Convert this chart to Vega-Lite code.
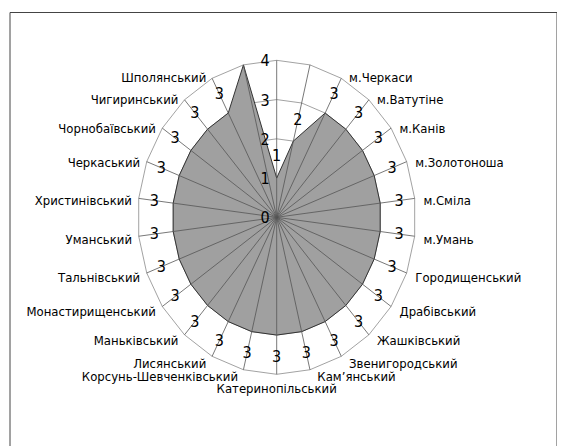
{
  "$schema": "https://vega.github.io/schema/vega-lite/v6.json",
  "width": 547,
  "height": 460,
  "autosize": {"type": "none"},
  "padding": {"left": 9.5, "top": 12, "right": 0, "bottom": 0},
  "background": "white",
  "config": {
    "view": {"stroke": "#444", "strokeWidth": 1},
    "font": "DejaVu Sans Condensed, DejaVu Sans",
    "text": {"font": "DejaVu Sans Condensed, DejaVu Sans", "color": "#000"}
  },
  "datasets": {
    "pts": [
      {"i": 0, "name": "", "value": 1, "label": "1"},
      {"i": 1, "name": "", "value": 2, "label": "2"},
      {"i": 2, "name": "м.Черкаси", "value": 3, "label": "3"},
      {"i": 3, "name": "м.Ватутіне", "value": 3, "label": "3"},
      {"i": 4, "name": "м.Канів", "value": 3, "label": "3"},
      {"i": 5, "name": "м.Золотоноша", "value": 3, "label": "3"},
      {"i": 6, "name": "м.Сміла", "value": 3, "label": "3"},
      {"i": 7, "name": "м.Умань", "value": 3, "label": "3"},
      {"i": 8, "name": "Городищенський", "value": 3, "label": "3"},
      {"i": 9, "name": "Драбівський", "value": 3, "label": "3"},
      {"i": 10, "name": "Жашківський", "value": 3, "label": "3"},
      {"i": 11, "name": "Звенигородський", "value": 3, "label": "3"},
      {"i": 12, "name": "Кам’янський", "value": 3, "label": "3"},
      {"i": 13, "name": "Катеринопільський", "value": 3, "label": "3"},
      {"i": 14, "name": "Корсунь-Шевченківський", "value": 3, "label": "3"},
      {"i": 15, "name": "Лисянський", "value": 3, "label": "3"},
      {"i": 16, "name": "Маньківський", "value": 3, "label": "3"},
      {"i": 17, "name": "Монастирищенський", "value": 3, "label": "3"},
      {"i": 18, "name": "Тальнівський", "value": 3, "label": "3"},
      {"i": 19, "name": "Уманський", "value": 3, "label": "3"},
      {"i": 20, "name": "Христинівський", "value": 3, "label": "3"},
      {"i": 21, "name": "Черкаський", "value": 3, "label": "3"},
      {"i": 22, "name": "Чорнобаївський", "value": 3, "label": "3"},
      {"i": 23, "name": "Чигиринський", "value": 3, "label": "3"},
      {"i": 24, "name": "Шполянський", "value": 3, "label": "3"},
      {"i": 25, "name": "", "value": 4, "label": ""}
    ],
    "ticks": [{"tick": 0}, {"tick": 1}, {"tick": 2}, {"tick": 3}, {"tick": 4}]
  },
  "data": {"name": "pts"},
  "transform": [
    {"calculate": "datum.i * 2 * PI / 26", "as": "theta"},
    {"calculate": "datum.value * sin(datum.theta)", "as": "px"},
    {"calculate": "datum.value * cos(datum.theta)", "as": "py"},
    {"calculate": "4 * sin(datum.theta)", "as": "ex"},
    {"calculate": "4 * cos(datum.theta)", "as": "ey"},
    {"calculate": "4.05 * sin(datum.theta)", "as": "lx"},
    {"calculate": "4.05 * cos(datum.theta) - 0.06 * (1 - cos(datum.theta))", "as": "ly"},
    {"calculate": "(datum.value + 0.55) * sin(datum.theta)", "as": "vx"},
    {"calculate": "(datum.value + 0.55) * cos(datum.theta)", "as": "vy"}
  ],
  "layer": [
    {
      "transform": [
        {"calculate": "[1, 2, 3, 4]", "as": "ring"},
        {"flatten": ["ring"]},
        {"calculate": "datum.ring * sin(datum.theta)", "as": "rx"},
        {"calculate": "datum.ring * cos(datum.theta)", "as": "ry"}
      ],
      "mark": {"type": "line", "interpolate": "linear-closed", "stroke": "#8a8a8a", "strokeWidth": 0.8},
      "encoding": {
        "x": {"field": "rx", "type": "quantitative", "scale": {"domain": [-7.689, 8.052], "nice": false, "zero": false}, "axis": null},
        "y": {"field": "ry", "type": "quantitative", "scale": {"domain": [-6.489, 5.231], "nice": false, "zero": false}, "axis": null},
        "detail": {"field": "ring", "type": "nominal"},
        "order": {"field": "i", "type": "quantitative"}
      }
    },
    {
      "mark": {"type": "line", "interpolate": "linear-closed", "fill": "#a0a0a0", "stroke": "#333", "strokeWidth": 1},
      "encoding": {
        "x": {"field": "px", "type": "quantitative", "scale": {"domain": [-7.689, 8.052], "nice": false, "zero": false}, "axis": null},
        "y": {"field": "py", "type": "quantitative", "scale": {"domain": [-6.489, 5.231], "nice": false, "zero": false}, "axis": null},
        "order": {"field": "i", "type": "quantitative"}
      }
    },
    {
      "mark": {"type": "rule", "stroke": "#555", "strokeWidth": 0.8},
      "encoding": {
        "x": {"field": "ex", "type": "quantitative", "scale": {"domain": [-7.689, 8.052], "nice": false, "zero": false}, "axis": null},
        "y": {"field": "ey", "type": "quantitative", "scale": {"domain": [-6.489, 5.231], "nice": false, "zero": false}, "axis": null},
        "x2": {"datum": 0},
        "y2": {"datum": 0}
      }
    },
    {
      "mark": {"type": "text", "fontSize": 16, "font": "Liberation Sans Narrow, DejaVu Sans Condensed, DejaVu Sans", "align": "center", "baseline": "middle"},
      "encoding": {
        "x": {"field": "vx", "type": "quantitative", "axis": null},
        "y": {"field": "vy", "type": "quantitative", "axis": null},
        "text": {"field": "label", "type": "nominal"}
      }
    },
    {
      "transform": [{"filter": "datum.i >= 2 && datum.i <= 12"}],
      "mark": {"type": "text", "fontSize": 13, "align": "left", "baseline": "middle", "dx": 7, "dy": 1},
      "encoding": {
        "x": {"field": "lx", "type": "quantitative", "axis": null},
        "y": {"field": "ly", "type": "quantitative", "axis": null},
        "text": {"field": "name", "type": "nominal"}
      }
    },
    {
      "transform": [{"filter": "datum.i == 13"}],
      "mark": {"type": "text", "fontSize": 13, "align": "center", "baseline": "top", "dy": 2},
      "encoding": {
        "x": {"field": "lx", "type": "quantitative", "axis": null},
        "y": {"field": "ly", "type": "quantitative", "axis": null},
        "text": {"field": "name", "type": "nominal"}
      }
    },
    {
      "transform": [{"filter": "datum.i >= 14 && datum.i <= 24"}],
      "mark": {"type": "text", "fontSize": 13, "align": "right", "baseline": "middle", "dx": -5, "dy": 1},
      "encoding": {
        "x": {"field": "lx", "type": "quantitative", "axis": null},
        "y": {"field": "ly", "type": "quantitative", "axis": null},
        "text": {"field": "name", "type": "nominal"}
      }
    },
    {
      "data": {"name": "ticks"},
      "mark": {"type": "text", "fontSize": 16, "font": "Liberation Sans Narrow, DejaVu Sans Condensed, DejaVu Sans", "align": "right", "baseline": "middle", "dx": -7, "dy": 1},
      "encoding": {
        "x": {"datum": 0, "type": "quantitative", "axis": null},
        "y": {"field": "tick", "type": "quantitative", "axis": null},
        "text": {"field": "tick", "type": "quantitative"}
      }
    }
  ]
}
